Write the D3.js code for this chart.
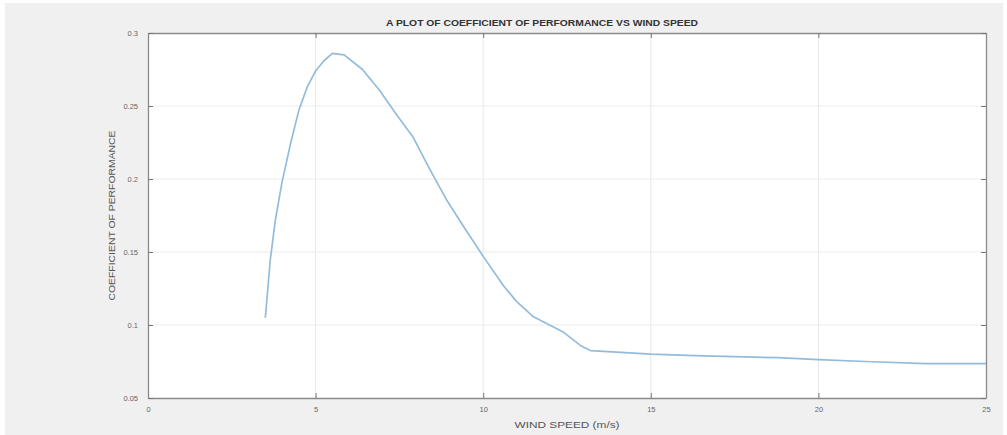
<!DOCTYPE html>
<html>
<head>
<meta charset="utf-8">
<script src="https://cdn.jsdelivr.net/npm/d3@7"></script>
<style>
  html, body { margin: 0; padding: 0; background: #fff; }
  svg { display: block; font-family: "Liberation Sans", Arial, sans-serif; }
</style>
</head>
<body>
<svg width="1007" height="435"></svg>
<script>
// values
const windSpeed = [3.5, 3.65, 3.8, 4.0, 4.25, 4.5, 4.75, 5.0, 5.25, 5.5, 5.85, 6.4, 6.9, 7.45, 7.9, 8.4, 8.9, 9.4, 10.0, 10.6, 11.0, 11.5, 12.4, 12.9, 13.2, 15, 16.3, 18.8, 20, 21.4, 23.2, 25];
const cp = [0.105, 0.145, 0.172, 0.198, 0.224, 0.247, 0.263, 0.274, 0.281, 0.286, 0.285, 0.275, 0.261, 0.243, 0.229, 0.207, 0.186, 0.168, 0.147, 0.127, 0.116, 0.1056, 0.095, 0.086, 0.0825, 0.080, 0.079, 0.0776, 0.0763, 0.075, 0.0735, 0.0735];
const xTicks = [0, 5, 10, 15, 20, 25];
const yTicks = [0.05, 0.1, 0.15, 0.2, 0.25, 0.3];
const yTickLabels = ['0.05', '0.1', '0.15', '0.2', '0.25', '0.3'];

const svg = d3.select('svg');
const plotLeft = 148, plotRight = 986, plotTop = 33, plotBottom = 398;

// grey figure background
svg.append('rect').attr('x', 5).attr('y', 3).attr('width', 998).attr('height', 432).attr('fill', '#f0f0f0');

const x = d3.scaleLinear().domain([0, 25]).range([plotLeft, plotRight]);
const y = d3.scaleLinear().domain([0.05, 0.3]).range([plotBottom, plotTop]);

svg.append('rect')
    .attr('x', plotLeft).attr('y', plotTop)
    .attr('width', plotRight - plotLeft).attr('height', plotBottom - plotTop)
    .attr('fill', '#fff');

// grid
svg.append('g').selectAll('line').data(xTicks.slice(1, -1))
    .enter().append('line')
    .attr('x1', d => x(d)).attr('x2', d => x(d))
    .attr('y1', plotTop).attr('y2', plotBottom)
    .attr('stroke', '#e8e8e8');
svg.append('g').selectAll('line').data(yTicks.slice(1, -1))
    .enter().append('line')
    .attr('x1', plotLeft).attr('x2', plotRight)
    .attr('y1', d => y(d)).attr('y2', d => y(d))
    .attr('stroke', '#ececec');

// curve
svg.append('path')
    .datum(d3.zip(windSpeed, cp))
    .attr('fill', 'none')
    .attr('stroke', '#93bcdc')
    .attr('stroke-width', 1.7)
    .attr('stroke-linejoin', 'round')
    .attr('d', d3.line().x(d => x(d[0])).y(d => y(d[1])));

// axes, ticks inward on all four sides
const tickStyle = g => {
    g.select('.domain').attr('stroke', '#8a8a8a').attr('stroke-width', 1.3);
    g.selectAll('.tick line').attr('stroke', '#777');
    g.selectAll('.tick text').attr('fill', '#666').attr('font-size', 7.5);
};

svg.append('g').attr('transform', `translate(0,${plotBottom})`)
    .call(d3.axisBottom(x).tickValues(xTicks).tickSizeInner(-5).tickSizeOuter(0).tickPadding(9))
    .call(tickStyle);
svg.append('g').attr('transform', `translate(0,${plotTop})`)
    .call(d3.axisTop(x).tickValues(xTicks).tickSizeInner(-5).tickSizeOuter(0).tickFormat(''))
    .call(tickStyle);
svg.append('g').attr('transform', `translate(${plotLeft},0)`)
    .call(d3.axisLeft(y).tickValues(yTicks).tickSizeInner(-5).tickSizeOuter(0).tickPadding(10)
        .tickFormat((d, i) => yTickLabels[i]))
    .call(tickStyle);
svg.append('g').attr('transform', `translate(${plotRight},0)`)
    .call(d3.axisRight(y).tickValues(yTicks).tickSizeInner(-5).tickSizeOuter(0).tickFormat(''))
    .call(tickStyle);

// texts
svg.append('text')
    .attr('x', 542).attr('y', 26)
    .attr('text-anchor', 'middle')
    .attr('font-size', 8.5).attr('font-weight', 'bold').attr('fill', '#333')
    .attr('textLength', 312).attr('lengthAdjust', 'spacingAndGlyphs')
    .text('A PLOT OF COEFFICIENT OF PERFORMANCE VS WIND SPEED');

svg.append('text')
    .attr('x', 567).attr('y', 428)
    .attr('text-anchor', 'middle')
    .attr('font-size', 9).attr('fill', '#555')
    .attr('textLength', 105).attr('lengthAdjust', 'spacingAndGlyphs')
    .text('WIND SPEED (m/s)');

svg.append('text')
    .attr('transform', `translate(115,${(plotTop + plotBottom) / 2}) rotate(-90)`)
    .attr('text-anchor', 'middle')
    .attr('font-size', 9).attr('fill', '#555')
    .attr('textLength', 170).attr('lengthAdjust', 'spacingAndGlyphs')
    .text('COEFFICIENT OF PERFORMANCE');
</script>
</body>
</html>
